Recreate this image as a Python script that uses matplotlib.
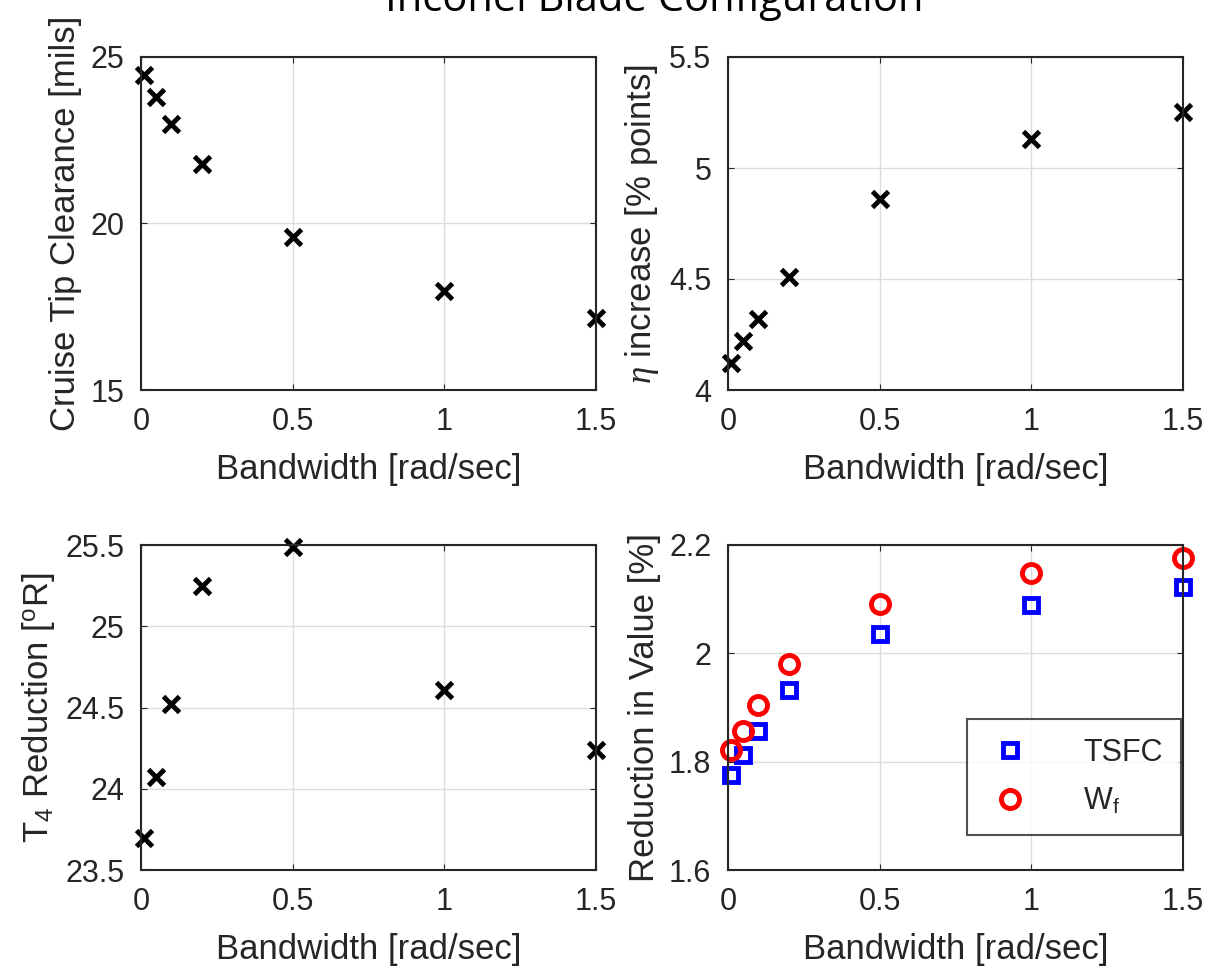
import matplotlib
matplotlib.use('Agg')
import matplotlib.pyplot as plt

plt.rcParams['font.family'] = ['Liberation Sans', 'DejaVu Sans']
plt.rcParams['mathtext.fontset'] = 'custom'
plt.rcParams['mathtext.rm'] = 'Liberation Sans'
plt.rcParams['mathtext.it'] = 'Liberation Serif:italic'

# data
bandwidth = [0.01, 0.05, 0.1, 0.2, 0.5, 1.0, 1.5]
tip_clearance = [24.46, 23.8, 23.0, 21.8, 19.6, 17.97, 17.16]
eta_increase = [4.12, 4.22, 4.32, 4.51, 4.86, 5.13, 5.25]
t4_reduction = [23.70, 24.07, 24.52, 25.25, 25.49, 24.61, 24.24]
tsfc_reduction = [1.775, 1.812, 1.857, 1.932, 2.036, 2.089, 2.122]
wf_reduction = [1.822, 1.857, 1.905, 1.980, 2.091, 2.148, 2.176]

xticks = [0, 0.5, 1, 1.5]
xticklabels = ['0', '0.5', '1', '1.5']

fig = plt.figure(figsize=(12.11, 9.8), dpi=100)

W, H = 1211, 980
def box(l, r, t, b):
    return [l / W, 1 - b / H, (r - l) / W, (b - t) / H]

ax1 = fig.add_axes(box(141, 596, 57, 390))
ax2 = fig.add_axes(box(728, 1183, 57, 390))
ax3 = fig.add_axes(box(141, 596, 545, 870))
ax4 = fig.add_axes(box(728, 1183, 545, 870))

tc = '#262626'
for ax in [ax1, ax2, ax3, ax4]:
    ax.set_xlim(0, 1.5)
    ax.set_xticks(xticks)
    ax.set_xticklabels(xticklabels)
    ax.grid(True, color='#dcdcdc', linewidth=1.0)
    ax.set_axisbelow(True)
    ax.tick_params(direction='in', length=4, width=0.8, top=True, right=True,
                   labelsize=22, colors=tc, pad=12)
    for s in ax.spines.values():
        s.set_linewidth(1.5)
        s.set_color('#262626')
    ax.set_xlabel('Bandwidth [rad/sec]', fontsize=25, color=tc, labelpad=12)

mk = dict(marker='x', color='black', markersize=11, markeredgewidth=3.5,
          linestyle='none', clip_on=False)

ax1.plot(bandwidth, tip_clearance, **mk)
ax1.set_ylim(15, 25)
ax1.set_yticks([15, 20, 25])
ax1.set_ylabel('Cruise Tip Clearance [mils]', fontsize=25, color=tc, labelpad=6)

ax2.plot(bandwidth, eta_increase, **mk)
ax2.set_ylim(4, 5.5)
ax2.set_yticks([4, 4.5, 5, 5.5])
ax2.set_yticklabels(['4', '4.5', '5', '5.5'])
ax2.set_ylabel(r'$\mathit{\eta}$ increase [% points]', fontsize=25, color=tc, labelpad=6)

ax3.plot(bandwidth, t4_reduction, **mk)
ax3.set_ylim(23.5, 25.5)
ax3.set_yticks([23.5, 24, 24.5, 25, 25.5])
ax3.set_yticklabels(['23.5', '24', '24.5', '25', '25.5'])
ax3.set_ylabel(r'T$_4$ Reduction [$^{\rm o}$R]', fontsize=25, color=tc, labelpad=6)

ax4.plot(bandwidth, tsfc_reduction, marker='s', linestyle='none', markersize=10,
         markerfacecolor='none', markeredgecolor='#0000ff', markeredgewidth=3.5,
         label='TSFC', clip_on=False)
ax4.plot(bandwidth, wf_reduction, marker='o', linestyle='none', markersize=13,
         markerfacecolor='none', markeredgecolor='#ff0000', markeredgewidth=3.5,
         label=r'W$_{\rm f}$', clip_on=False)
ax4.set_ylim(1.6, 2.2)
ax4.set_yticks([1.6, 1.8, 2.0, 2.2])
ax4.set_yticklabels(['1.6', '1.8', '2', '2.2'])
ax4.set_ylabel('Reduction in Value [%]', fontsize=25, color=tc, labelpad=6)
leg = ax4.legend(loc='lower right', bbox_to_anchor=(0.995, 0.108), fontsize=22,
                 frameon=True, fancybox=False, edgecolor='#262626',
                 borderpad=0.6, labelspacing=0.6, handletextpad=1.6,
                 borderaxespad=0, handlelength=1.6)
leg.get_frame().set_linewidth(1.5)
for t in leg.get_texts():
    t.set_color(tc)

fig.text(0.54, 1.0, 'Inconel Blade Configuration', ha='center', va='center',
         fontsize=30, family=['Open Sans', 'DejaVu Sans'])

fig.savefig('out.png', dpi=100)
